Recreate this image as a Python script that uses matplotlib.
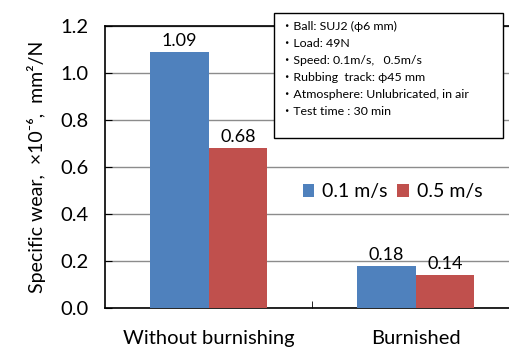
import matplotlib
matplotlib.use("Agg")
import matplotlib.pyplot as plt
from matplotlib.patches import Rectangle
import numpy as np

plt.rcParams["font.family"] = ["Lato", "Noto Sans CJK JP", "DejaVu Sans"]

categories = ["Without burnishing", "Burnished"]
speeds = ["0.1 m/s", "0.5 m/s"]
wear_01 = [1.09, 0.18]
wear_05 = [0.68, 0.14]
conditions = [
    "\u30fbBall: SUJ2 (\u03d56 mm)",
    "\u30fbLoad: 49N",
    "\u30fbSpeed: 0.1m/s,   0.5m/s",
    "\u30fbRubbing  track: \u03d545 mm",
    "\u30fbAtmosphere: Unlubricated, in air",
    "\u30fbTest time : 30 min",
]

COLORS = ["#4F81BD", "#C0504D"]

fig = plt.figure(figsize=(5.09, 3.54), dpi=100)
ax = fig.add_axes([105 / 509, 1 - 308 / 354, 414 / 509, 282 / 354])

x = np.arange(len(categories))
w = 0.285
b1 = ax.bar(x - w / 2, wear_01, w, color=COLORS[0], label=speeds[0], zorder=3)
b2 = ax.bar(x + w / 2, wear_05, w, color=COLORS[1], label=speeds[1], zorder=3)
ax.bar_label(b1, fmt="%.2f", padding=2, fontsize=13)
ax.bar_label(b2, fmt="%.2f", padding=2, fontsize=13)

ax.set_xlim(-0.5, 1.5)
ax.set_ylim(0, 1.2)
ax.set_yticks(np.arange(0, 1.21, 0.2))
ax.set_yticklabels([f"{v:.1f}" for v in np.arange(0, 1.21, 0.2)], fontsize=14.5)
ax.set_xticks(x)
ax.set_xticklabels(categories, fontsize=14.5)
ax.set_xticks([0.5], minor=True)
ax.tick_params(axis="x", which="major", length=0, pad=16)
ax.tick_params(axis="x", which="minor", length=5, direction="in", color="black")
ax.tick_params(axis="y", direction="in", length=5, pad=12)
ax.grid(axis="y", color="#8c8c8c", linewidth=1, zorder=0)
ax.set_axisbelow(True)
for s in ax.spines.values():
    s.set_linewidth(1.2)
ax.set_ylabel("Specific wear,  \u00d710\u207b\u2076,  mm\u00b2/N", fontsize=14, labelpad=10)

ax.legend(loc="upper left", bbox_to_anchor=(180 / 414, 1 - 140 / 282), ncol=2,
          frameon=False, fontsize=14, handlelength=0.6, handleheight=0.6,
          handletextpad=0.4, columnspacing=0.5)

# conditions box
fig.patches.append(Rectangle((274 / 509, 1 - 138 / 354), 229 / 509, 125 / 354,
                             transform=fig.transFigure, facecolor="white",
                             edgecolor="black", linewidth=1.0, zorder=5))
fig.text(281 / 509, 1 - 21 / 354, "\n".join(conditions), fontsize=8.9,
         va="top", ha="left", linespacing=1.66, zorder=6)

plt.savefig("out.png", dpi=100)
